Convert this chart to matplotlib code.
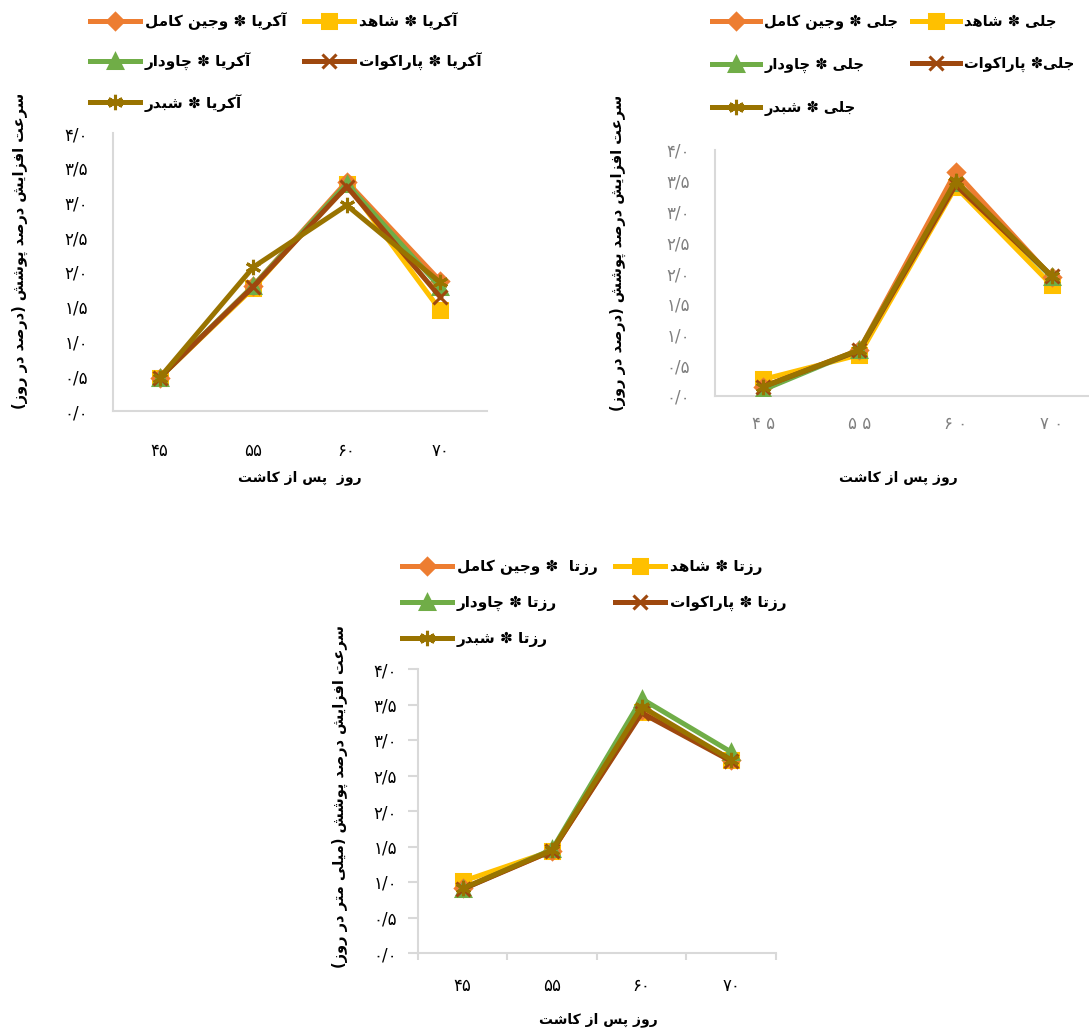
import numpy as np
import matplotlib
matplotlib.use("Agg")
import matplotlib.pyplot as plt

plt.rcParams['font.family'] = ['DejaVu Sans']

# --- data ---
days = ['۴۵', '۵۵', '۶۰', '۷۰']
days_sp = ['۴ ۵', '۵ ۵', '۶ ۰', '۷ ۰']
yticks = [0, 0.5, 1, 1.5, 2, 2.5, 3, 3.5, 4]
ytick_labels = ['۰/۰', '۰/۵', '۱/۰', '۱/۵', '۲/۰', '۲/۵', '۳/۰', '۳/۵', '۴/۰']

treat = ['وجین کامل', 'چاودار', 'شبدر', 'شاهد', 'پاراکوات']

akria_vajin = [0.48, 1.80, 3.30, 1.87]
akria_chavdar = [0.48, 1.80, 3.27, 1.78]
akria_shabdar = [0.48, 2.07, 2.96, 1.85]
akria_shahed = [0.48, 1.77, 3.27, 1.45]
akria_parakvat = [0.48, 1.79, 3.23, 1.64]

jeli_vajin = [0.15, 0.75, 3.64, 1.93]
jeli_chavdar = [0.10, 0.75, 3.47, 1.93]
jeli_shabdar = [0.15, 0.75, 3.50, 1.95]
jeli_shahed = [0.27, 0.67, 3.40, 1.80]
jeli_parakvat = [0.15, 0.74, 3.43, 1.95]

rozeta_vajin = [0.91, 1.44, 3.42, 2.72]
rozeta_chavdar = [0.90, 1.46, 3.58, 2.83]
rozeta_shabdar = [0.91, 1.45, 3.47, 2.72]
rozeta_shahed = [1.01, 1.44, 3.40, 2.72]
rozeta_parakvat = [0.90, 1.44, 3.38, 2.70]

labels_akria = ['آکریا ✽ وجین کامل', 'آکریا ✽ چاودار', 'آکریا ✽ شبدر', 'آکریا ✽ شاهد', 'آکریا ✽ پاراکوات']
labels_jeli = ['جلی ✽ وجین کامل', 'جلی ✽ چاودار', 'جلی ✽ شبدر', 'جلی ✽ شاهد', 'جلی✽ پاراکوات']
labels_rozeta = ['رزتا  ✽ وجین کامل', 'رزتا ✽ چاودار', 'رزتا ✽ شبدر', 'رزتا ✽ شاهد', 'رزتا ✽ پاراکوات']

ylabel_a = 'سرعت افزایش درصد پوشش (درصد در روز)'
ylabel_c = 'سرعت افزایش درصد پوشش (میلی متر در روز)'
xlabel_a = 'روز  پس از کاشت'
xlabel_b = 'روز پس از کاشت'

# --- simple persian shaping (matplotlib has no bidi) ---
FORMS = {
    'ا': ('\uFE8D', '\uFE8E', None, None),
    'آ': ('\uFE81', '\uFE82', None, None),
    'ب': ('\uFE8F', '\uFE90', '\uFE91', '\uFE92'),
    'پ': ('\uFB56', '\uFB57', '\uFB58', '\uFB59'),
    'ت': ('\uFE95', '\uFE96', '\uFE97', '\uFE98'),
    'ج': ('\uFE9D', '\uFE9E', '\uFE9F', '\uFEA0'),
    'چ': ('\uFB7A', '\uFB7B', '\uFB7C', '\uFB7D'),
    'د': ('\uFEA9', '\uFEAA', None, None),
    'ر': ('\uFEAD', '\uFEAE', None, None),
    'ز': ('\uFEAF', '\uFEB0', None, None),
    'س': ('\uFEB1', '\uFEB2', '\uFEB3', '\uFEB4'),
    'ش': ('\uFEB5', '\uFEB6', '\uFEB7', '\uFEB8'),
    'ص': ('\uFEB9', '\uFEBA', '\uFEBB', '\uFEBC'),
    'ع': ('\uFEC9', '\uFECA', '\uFECB', '\uFECC'),
    'ف': ('\uFED1', '\uFED2', '\uFED3', '\uFED4'),
    'ک': ('\uFB8E', '\uFB8F', '\uFB90', '\uFB91'),
    'ل': ('\uFEDD', '\uFEDE', '\uFEDF', '\uFEE0'),
    'م': ('\uFEE1', '\uFEE2', '\uFEE3', '\uFEE4'),
    'ن': ('\uFEE5', '\uFEE6', '\uFEE7', '\uFEE8'),
    'و': ('\uFEED', '\uFEEE', None, None),
    'ه': ('\uFEE9', '\uFEEA', '\uFEEB', '\uFEEC'),
    'ی': ('\uFBFC', '\uFBFD', '\uFBFE', '\uFBFF'),
}


def fa(s):
    out = []
    for i, c in enumerate(s):
        if c not in FORMS:
            out.append(c)
            continue
        prev = s[i - 1] if i > 0 else ''
        nxt = s[i + 1] if i + 1 < len(s) else ''
        jp = prev in FORMS and FORMS[prev][2] is not None
        jn = nxt in FORMS and FORMS[c][2] is not None
        iso, fin, ini, med = FORMS[c]
        if jp and jn:
            out.append(med)
        elif jp:
            out.append(fin)
        elif jn:
            out.append(ini)
        else:
            out.append(iso)
    vis = ''.join(out)[::-1]
    return vis.replace('(', '\0').replace(')', '(').replace('\0', ')')


colors = ['#ED7D31', '#70AD47', '#997300', '#FFC000', '#9E480E']
markers = ['D', '^', (6, 2, 0), 's', 'x']
msizes = [8, 10, 11, 10, 10]
zorder = [3, 4, 6, 2, 5]

W, H = 1089, 1032
fig = plt.figure(figsize=(W / 100, H / 100), dpi=100)


def px(x0, y0, x1, y1):
    return [x0 / W, 1 - y1 / H, (x1 - x0) / W, (y1 - y0) / H]


def draw(ax, series, labels, xt, tickcol):
    for k in range(5):
        ax.plot(range(4), series[k], color=colors[k], lw=3.6, marker=markers[k],
                ms=msizes[k], mew=2.2, mfc=colors[k], mec=colors[k],
                zorder=zorder[k], label=fa(labels[k]), solid_joinstyle='miter')
    ax.set_xlim(-0.5, 3.5)
    ax.set_ylim(0, 4)
    ax.set_yticks(yticks)
    ax.set_yticklabels(ytick_labels, fontsize=12, color=tickcol)
    ax.set_xticks(range(4))
    ax.set_xticklabels(xt, fontsize=12, color=tickcol)
    for s in ['top', 'right']:
        ax.spines[s].set_visible(False)
    for s in ['left', 'bottom']:
        ax.spines[s].set_color('#D9D9D9')
        ax.spines[s].set_linewidth(1.5)


ax1 = fig.add_axes(px(113, 133, 487, 411))
draw(ax1, [akria_vajin, akria_chavdar, akria_shabdar, akria_shahed, akria_parakvat],
     labels_akria, days, 'black')
ax1.tick_params(axis='both', length=0)
ax1.tick_params(axis='y', pad=18)
ax1.tick_params(axis='x', pad=22)

ax2 = fig.add_axes(px(715, 150, 1100, 396))
draw(ax2, [jeli_vajin, jeli_chavdar, jeli_shabdar, jeli_shahed, jeli_parakvat],
     labels_jeli, days_sp, '#808080')
ax2.tick_params(axis='both', length=0)
ax2.tick_params(axis='y', pad=18)
ax2.tick_params(axis='x', pad=14)

ax3 = fig.add_axes(px(418, 669, 776, 953))
draw(ax3, [rozeta_vajin, rozeta_chavdar, rozeta_shabdar, rozeta_shahed, rozeta_parakvat],
     labels_rozeta, days, 'black')
ax3.set_xticks(np.arange(-0.5, 4, 1), minor=True)
ax3.tick_params(axis='x', which='major', length=0, pad=17)
ax3.tick_params(axis='x', which='minor', length=5, width=1.5, color='#D9D9D9')
ax3.tick_params(axis='y', length=7, width=1.5, color='#D9D9D9', pad=8)

# legends
for ax, (lx, ly), sp, cs, fs in [(ax1, (90, 12), 1.5, 1.1, 11),
                                 (ax2, (712, 14), 1.85, 0.9, 10.5),
                                 (ax3, (402, 559), 1.3, 1.1, 11)]:
    ax.legend(loc='upper left', bbox_to_anchor=(lx / W, 1 - ly / H),
              bbox_transform=fig.transFigure, ncol=2, frameon=False,
              prop={'size': fs, 'weight': 'bold'}, handlelength=3.3,
              handletextpad=0.3, columnspacing=cs, borderpad=0,
              borderaxespad=0, labelspacing=sp)

# axis titles
fig.text(20 / W, 1 - 251 / H, fa(ylabel_a), rotation=90, ha='center', va='center',
         fontsize=10.5, fontweight='bold')
fig.text(618 / W, 1 - 253 / H, fa(ylabel_a), rotation=90, ha='center', va='center',
         fontsize=10.5, fontweight='bold')
fig.text(340 / W, 1 - 797 / H, fa(ylabel_c), rotation=90, ha='center', va='center',
         fontsize=10.5, fontweight='bold')
fig.text(300 / W, 1 - 478 / H, fa(xlabel_a), ha='center', va='center',
         fontsize=10, fontweight='bold')
fig.text(898 / W, 1 - 478 / H, fa(xlabel_b), ha='center', va='center',
         fontsize=10, fontweight='bold')
fig.text(598 / W, 1 - 1020 / H, fa(xlabel_b), ha='center', va='center',
         fontsize=10, fontweight='bold')

fig.savefig('out.png', dpi=100)
